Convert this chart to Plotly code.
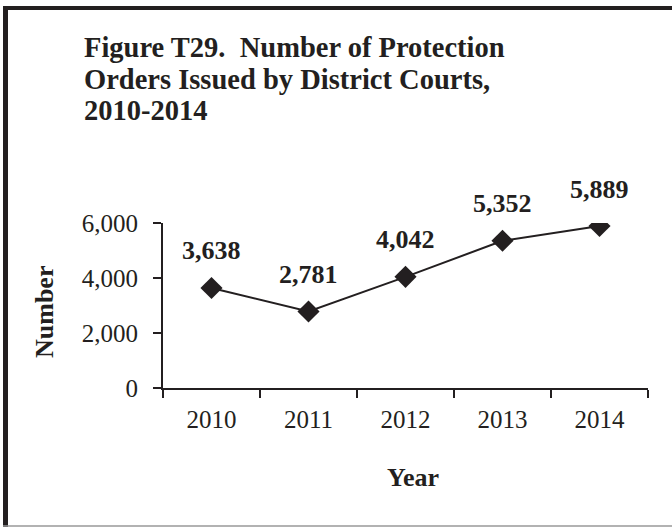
import plotly.graph_objects as go

years = ["2010", "2011", "2012", "2013", "2014"]
orders = [3638, 2781, 4042, 5352, 5889]
y_ticks = [0, 2000, 4000, 6000]
title_lines = ["Figure T29.&nbsp; Number of Protection",
               "Orders Issued by District Courts,",
               "2010-2014"]

W, H = 672, 527
L, R, T, B = 163, 24, 223, 139
PW, PH = W - L - R, H - T - B
DARK = "#231f20"
FONT = "Liberation Serif"

def px(x):
    return (x - L) / PW

def py(y):
    return (H - B - y) / PH

fig = go.Figure()
fig.add_trace(go.Scatter(
    x=years, y=orders, mode="lines+markers",
    line=dict(color=DARK, width=2),
    marker=dict(symbol="diamond", size=17, color=DARK),
    hoverinfo="skip", showlegend=False,
))

annotations = []
for i, v in enumerate(orders):
    annotations.append(dict(
        x=i, y=v, xref="x", yref="y", text=f"<b>{v:,}</b>", showarrow=False,
        yshift=37, xanchor="center", yanchor="middle",
        font=dict(family=FONT, size=26, color=DARK),
    ))

for i, line in enumerate(title_lines):
    annotations.append(dict(
        x=px(82), y=py(47.5 + i * 31.7), xref="paper", yref="paper",
        text=f"<b>{line}</b>", showarrow=False, xanchor="left", yanchor="middle",
        font=dict(family=FONT, size=28.5, color=DARK),
    ))

annotations.append(dict(
    x=px(44), y=py(312), xref="paper", yref="paper", text="<b>Number</b>",
    showarrow=False, textangle=-90, xanchor="center", yanchor="middle",
    font=dict(family=FONT, size=26, color=DARK),
))
annotations.append(dict(
    x=px(412.5), y=py(477.5), xref="paper", yref="paper", text="<b>Year</b>",
    showarrow=False, xanchor="center", yanchor="middle",
    font=dict(family=FONT, size=26, color=DARK),
))

shapes = [
    dict(type="line", xref="paper", yref="paper", x0=px(5.5), x1=px(5.5),
         y0=py(6), y1=py(527), line=dict(color=DARK, width=5)),
    dict(type="line", xref="paper", yref="paper", x0=px(3), x1=px(672),
         y0=py(8), y1=py(8), line=dict(color=DARK, width=4)),
    dict(type="line", xref="paper", yref="paper", x0=px(3), x1=px(672),
         y0=py(526), y1=py(526), line=dict(color="#999999", width=1.5)),
]

fig.update_layout(
    width=W, height=H,
    margin=dict(l=L, r=R, t=T, b=B, pad=0),
    paper_bgcolor="white", plot_bgcolor="white",
    annotations=annotations, shapes=shapes,
    font=dict(family=FONT, color=DARK),
    xaxis=dict(
        type="category", range=[-0.5, 4.5], showgrid=False, zeroline=False,
        showline=True, linecolor=DARK, linewidth=2,
        ticks="outside", tickson="boundaries", ticklen=8, tickwidth=2, tickcolor=DARK,
        tickfont=dict(family=FONT, size=25, color=DARK),
        ticklabelstandoff=8, fixedrange=True,
    ),
    yaxis=dict(
        range=[0, 6000], tickvals=y_ticks, tickformat=",", showgrid=False,
        zeroline=False, showline=True, linecolor=DARK, linewidth=2,
        ticks="outside", ticklen=8, tickwidth=2, tickcolor=DARK,
        tickfont=dict(family=FONT, size=25, color=DARK),
        ticklabelstandoff=10, fixedrange=True,
    ),
)

fig.write_html("out.html", config={"displayModeBar": False},
               post_script="document.body.style.margin='0';")
